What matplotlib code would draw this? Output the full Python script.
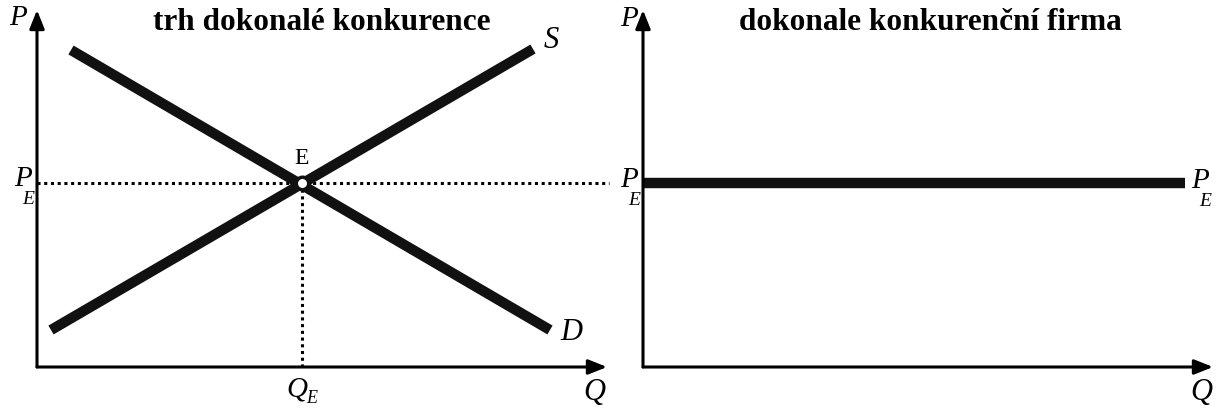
import matplotlib

matplotlib.use("Agg")
import matplotlib.pyplot as plt

plt.rcParams["font.family"] = ["Liberation Serif", "DejaVu Serif"]

# panel extents (Q, P units)
q_max = 570
p_max = 357

# market: demand and supply endpoints
demand_q = [34, 513]
demand_p = [317, 37]
supply_q = [14, 496]
supply_p = [37, 318]
eq_q = 265
eq_p = 184

# firm: horizontal price line
firm_q = [0, 542]
firm_p = [eq_p, eq_p]

W, H = 1223, 411
fig = plt.figure(figsize=(W / 100, H / 100), dpi=100)
fig.patch.set_facecolor("white")


def make_ax(x0, y0):
    # x0, y0 = origin in pixels (from left/top)
    ax = fig.add_axes([x0 / W, (H - y0) / H, q_max / W, p_max / H])
    ax.set_xlim(0, q_max)
    ax.set_ylim(0, p_max)
    ax.axis("off")
    arrow = dict(arrowstyle="-|>,head_length=0.8,head_width=0.32", color="black",
                 lw=2.2, mutation_scale=14, shrinkA=0, shrinkB=0)
    ax.annotate("", xy=(0, p_max), xytext=(0, 0), arrowprops=arrow, annotation_clip=False)
    ax.annotate("", xy=(q_max, 0), xytext=(0, 0), arrowprops=arrow, annotation_clip=False)
    return ax


def var(ax, x, y, s, size=21):
    ax.text(x, y, s, fontsize=size, style="italic", ha="center", va="center", clip_on=False)


def sub_label(ax, x, y, main):
    # italic letter with a small italic E below-right, as in the figure
    var(ax, x, y, main, 21)
    var(ax, x + 5, y - 20, "E", 14)


# left panel: market
ax1 = make_ax(37, 367)
ax1.plot(demand_q, demand_p, color="#111111", lw=7.4, solid_capstyle="butt")
ax1.plot(supply_q, supply_p, color="#111111", lw=7.4, solid_capstyle="butt")
ax1.plot([0, q_max + 2], [eq_p, eq_p], color="black", lw=2.2,
         linestyle=(0, (1, 1.2)), clip_on=False, zorder=1)
ax1.plot([eq_q, eq_q], [0, eq_p], color="black", lw=2.2,
         linestyle=(0, (1, 1.2)), zorder=1)
ax1.plot([eq_q], [eq_p], "o", ms=9, mfc="white", mec="#111111", mew=2.5, zorder=5)
ax1.text(eq_q, eq_p + 25, "E", fontsize=17, ha="center", va="center")
var(ax1, -19, 349, "P", 21)
sub_label(ax1, -14, 188, "P")
var(ax1, eq_q - 5, -22, "Q", 21)
var(ax1, eq_q + 10, -31, "E", 13)
var(ax1, 557, -25, "Q", 22)
var(ax1, 514, 326, "S", 22)
var(ax1, 534, 35, "D", 22)
ax1.text(285, p_max - 12, "trh dokonalé konkurence", fontsize=22.5,
         fontweight="bold", ha="center", va="center", clip_on=False)

# right panel: firm
ax2 = make_ax(643, 367)
ax2.plot(firm_q, firm_p, color="#111111", lw=7.5, solid_capstyle="butt")
var(ax2, -14, 348, "P", 21)
sub_label(ax2, -14, 187, "P")
sub_label(ax2, 557, 186, "P")
var(ax2, 558, -25, "Q", 22)
ax2.text(287, p_max - 12, "dokonale konkurenční firma", fontsize=22.5,
         fontweight="bold", ha="center", va="center", clip_on=False)

fig.savefig("out.png", dpi=100)
